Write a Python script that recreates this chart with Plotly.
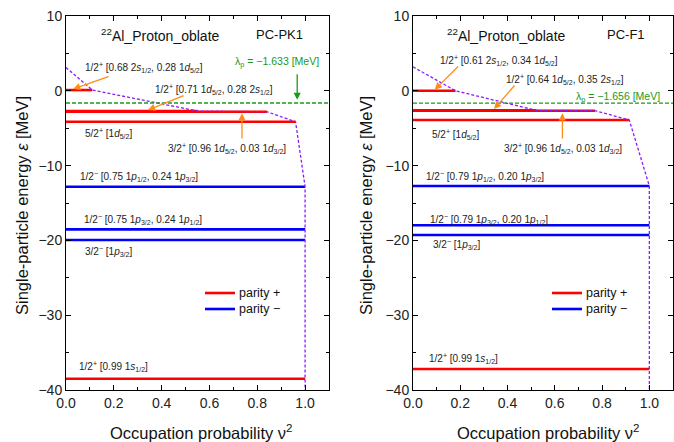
import plotly.graph_objects as go

# ---- data: single-particle levels (energy in MeV, occupation v^2, parity) ----
# Panel 1: PC-PK1
pk1_energy = [3.1, 0.1, -2.70, -2.80, -4.13, -12.82, -18.52, -19.95, -38.49]
pk1_v2 = [0.0, 0.11, 0.55, 0.84, 0.96, 1.0, 1.0, 1.0, 1.0]
pk1_parity = ["+", "+", "+", "+", "+", "-", "-", "-", "+"]
pk1_lambda = -1.633

# Panel 2: PC-F1
f1_energy = [3.2, 0.0, -2.60, -2.66, -3.90, -12.73, -17.98, -19.28, -37.19]
f1_v2 = [0.0, 0.18, 0.52, 0.77, 0.915, 1.0, 1.0, 1.0, 1.0]
f1_parity = ["+", "+", "+", "+", "+", "-", "-", "-", "+"]
f1_lambda = -1.656

pk1_labels = [
    "1/2<sup>+</sup> [0.68 2<i>s</i><sub>1/2</sub>, 0.28 1<i>d</i><sub>5/2</sub>]",
    "1/2<sup>+</sup> [0.71 1<i>d</i><sub>5/2</sub>, 0.28 2<i>s</i><sub>1/2</sub>]",
    "5/2<sup>+</sup> [1<i>d</i><sub>5/2</sub>]",
    "3/2<sup>+</sup> [0.96 1<i>d</i><sub>5/2</sub>, 0.03 1<i>d</i><sub>3/2</sub>]",
    "1/2<sup>−</sup> [0.75 1<i>p</i><sub>1/2</sub>, 0.24 1<i>p</i><sub>3/2</sub>]",
    "1/2<sup>−</sup> [0.75 1<i>p</i><sub>3/2</sub>, 0.24 1<i>p</i><sub>1/2</sub>]",
    "3/2<sup>−</sup> [1<i>p</i><sub>3/2</sub>]",
    "1/2<sup>+</sup> [0.99 1<i>s</i><sub>1/2</sub>]",
]
f1_labels = [
    "1/2<sup>+</sup> [0.61 2<i>s</i><sub>1/2</sub>, 0.34 1<i>d</i><sub>5/2</sub>]",
    "1/2<sup>+</sup> [0.64 1<i>d</i><sub>5/2</sub>, 0.35 2<i>s</i><sub>1/2</sub>]",
    "5/2<sup>+</sup> [1<i>d</i><sub>5/2</sub>]",
    "3/2<sup>+</sup> [0.96 1<i>d</i><sub>5/2</sub>, 0.03 1<i>d</i><sub>3/2</sub>]",
    "1/2<sup>−</sup> [0.79 1<i>p</i><sub>1/2</sub>, 0.20 1<i>p</i><sub>3/2</sub>]",
    "1/2<sup>−</sup> [0.79 1<i>p</i><sub>3/2</sub>, 0.20 1<i>p</i><sub>1/2</sub>]",
    "3/2<sup>−</sup> [1<i>p</i><sub>3/2</sub>]",
    "1/2<sup>+</sup> [0.99 1<i>s</i><sub>1/2</sub>]",
]
# label anchor positions (v^2, energy), left-aligned
pk1_label_pos = [(0.071, 3.05), (0.364, 0.24), (0.071, -5.7), (0.418, -7.65),
                 (0.050, -11.39), (0.067, -17.27), (0.071, -21.5), (0.046, -36.8)]
f1_label_pos = [(0.105, 4.1), (0.385, 1.54), (0.071, -5.8), (0.377, -7.65),
                (0.046, -11.48), (0.063, -17.2), (0.075, -20.6), (0.059, -35.8)]

# orange pointer arrows: (tail v2, tail e, head v2, head e)
pk1_arrows = [(0.184, 1.98, 0.03, 0.24), (0.498, -0.56, 0.343, -2.57), (0.736, -6.58, 0.736, -3.0)]
f1_arrows = [(0.197, 3.45, 0.092, 0.15), (0.435, 0.91, 0.343, -2.43), (0.632, -6.58, 0.632, -3.0)]

X_MIN, X_MAX = 0.0, 1.1
Y_MIN, Y_MAX = -40, 10

RED = "#ff0000"
BLUE = "#0000ff"
VIOLET = "#8a1cff"
GREEN = "#1a9a1a"
ORANGE = "#ff8c1a"
FONT = "Arial, Liberation Sans, sans-serif"

W, H = 674, 442

fig = go.Figure()
annotations = []
shapes = []


def add_panel(n, energy, v2, parity, lam, labels, label_pos, arrows, model, lam_text_pos, lam_arrow, legend_x):
    xa = "x" if n == 1 else f"x{n}"
    ya = "y" if n == 1 else f"y{n}"
    # level bars
    for e, occ, p in zip(energy, v2, parity):
        if occ <= 0:
            continue
        color = RED if p == "+" else BLUE
        fig.add_trace(go.Scatter(
            x=[0, occ], y=[e, e], mode="lines", xaxis=xa, yaxis=ya,
            line=dict(color=color, width=2.6), showlegend=False, hoverinfo="skip"))
    # occupation curve through level end points, continued down the axis
    order = sorted(range(len(energy)), key=lambda i: -energy[i])
    cx = [v2[i] for i in order] + [v2[order[-1]]]
    cy = [energy[i] for i in order] + [Y_MIN - 5]
    fig.add_trace(go.Scatter(
        x=cx, y=cy, mode="lines", xaxis=xa, yaxis=ya, showlegend=False,
        line=dict(color=VIOLET, width=1.3, dash="3px,2px"), hoverinfo="skip"))
    # Fermi level
    fig.add_trace(go.Scatter(
        x=[X_MIN, X_MAX], y=[lam, lam], mode="lines", xaxis=xa, yaxis=ya, showlegend=False,
        line=dict(color=GREEN, width=1.3, dash="4px,2px"), hoverinfo="skip"))

    small = dict(family=FONT, size=10, color="#222222")
    for txt, (lx, ly) in zip(labels, label_pos):
        annotations.append(dict(x=lx, y=ly, xref=xa, yref=ya, text=txt, showarrow=False,
                                xanchor="left", yanchor="middle", font=small))
    for tx, ty, hx, hy in arrows:
        annotations.append(dict(x=hx, y=hy, ax=tx, ay=ty, xref=xa, yref=ya, axref=xa, ayref=ya,
                                text="", showarrow=True, arrowhead=2, arrowsize=1.1,
                                arrowwidth=1.3, arrowcolor=ORANGE))
    annotations.append(dict(x=0.397, y=7.46, xref=xa, yref=ya, showarrow=False,
                            text="<sup>22</sup>Al_Proton_oblate",
                            font=dict(family=FONT, size=14, color="#111111")))
    annotations.append(dict(x=0.895 if n == 1 else 0.9, y=7.46, xref=xa, yref=ya, showarrow=False,
                            text=model, font=dict(family=FONT, size=13, color="#111111")))
    annotations.append(dict(x=lam_text_pos[0], y=lam_text_pos[1], xref=xa, yref=ya, showarrow=False,
                            text=f"λ<sub>p</sub> = −{abs(lam):.3f} [MeV]",
                            font=dict(family=FONT, size=10.5, color=GREEN)))
    if lam_arrow:
        tx, ty, hx, hy = lam_arrow
        annotations.append(dict(x=hx, y=hy, ax=tx, ay=ty, xref=xa, yref=ya, axref=xa, ayref=ya,
                                text="", showarrow=True, arrowhead=2, arrowsize=1.1,
                                arrowwidth=1.3, arrowcolor=GREEN))

    # parity key
    for i, (color, name) in enumerate([(RED, "parity +"), (BLUE, "parity −")]):
        ypix = 293 + 16 * i
        shapes.append(dict(type="line", xref="paper", yref="paper",
                           x0=legend_x / W, x1=(legend_x + 30) / W,
                           y0=1 - ypix / H, y1=1 - ypix / H,
                           line=dict(color=color, width=2.6)))
        annotations.append(dict(x=(legend_x + 32) / W, y=1 - ypix / H, xref="paper", yref="paper",
                                showarrow=False, xanchor="left", yanchor="middle", text=name,
                                font=dict(family=FONT, size=12.5, color="#111111")))


add_panel(1, pk1_energy, pk1_v2, pk1_parity, pk1_lambda, pk1_labels, pk1_label_pos, pk1_arrows,
          "PC-PK1", (0.883, 3.85), (0.967, 2.4, 0.967, -1.2), 205)
add_panel(2, f1_energy, f1_v2, f1_parity, f1_lambda, f1_labels, f1_label_pos, f1_arrows,
          "PC-F1", (0.866, -0.85), None, 552)

dom_y = [1 - 390 / H, 1 - 16 / H]
dom_x1 = [66 / W, 329 / W]
dom_x2 = [413 / W, 673 / W]

axis_common = dict(showline=True, linecolor="black", linewidth=1, mirror="ticks",
                   ticks="inside", ticklen=5, tickcolor="black", showgrid=False, zeroline=False,
                   automargin=False,
                   tickfont=dict(family=FONT, size=14, color="#222222"))
xcommon = dict(axis_common, range=[X_MIN, X_MAX], tick0=0, dtick=0.2, tickformat=".1f",
               minor=dict(ticks="inside", ticklen=3, dtick=0.1, tickcolor="black"))
ycommon = dict(axis_common, range=[Y_MIN, Y_MAX], tick0=0, dtick=10,
               minor=dict(ticks="inside", ticklen=3, dtick=5, tickcolor="black"))

title_font = dict(family=FONT, size=16.5, color="#111111")
annotations += [
    dict(x=22 / W, y=1 - 206 / H, xref="paper", yref="paper", showarrow=False, textangle=-90,
         xanchor="center", yanchor="middle",
         text="Single-particle energy <i>ε</i> [MeV]", font=title_font),
    dict(x=366 / W, y=1 - 206 / H, xref="paper", yref="paper", showarrow=False, textangle=-90,
         xanchor="center", yanchor="middle",
         text="Single-particle energy <i>ε</i> [MeV]", font=title_font),
    dict(x=201 / W, y=1 - 432 / H, xref="paper", yref="paper", showarrow=False,
         xanchor="center", yanchor="middle",
         text="Occupation probability ν<sup>2</sup>", font=title_font),
    dict(x=548 / W, y=1 - 432 / H, xref="paper", yref="paper", showarrow=False,
         xanchor="center", yanchor="middle",
         text="Occupation probability ν<sup>2</sup>", font=title_font),
]

fig.update_layout(
    width=W, height=H, margin=dict(l=0, r=0, t=0, b=0, autoexpand=False),
    paper_bgcolor="white", plot_bgcolor="white", showlegend=False,
    xaxis=dict(xcommon, domain=dom_x1, anchor="y"),
    yaxis=dict(ycommon, domain=dom_y, anchor="x"),
    xaxis2=dict(xcommon, domain=dom_x2, anchor="y2"),
    yaxis2=dict(ycommon, domain=dom_y, anchor="x2"),
    annotations=annotations,
    shapes=shapes,
)

fig.write_html("out.html")
